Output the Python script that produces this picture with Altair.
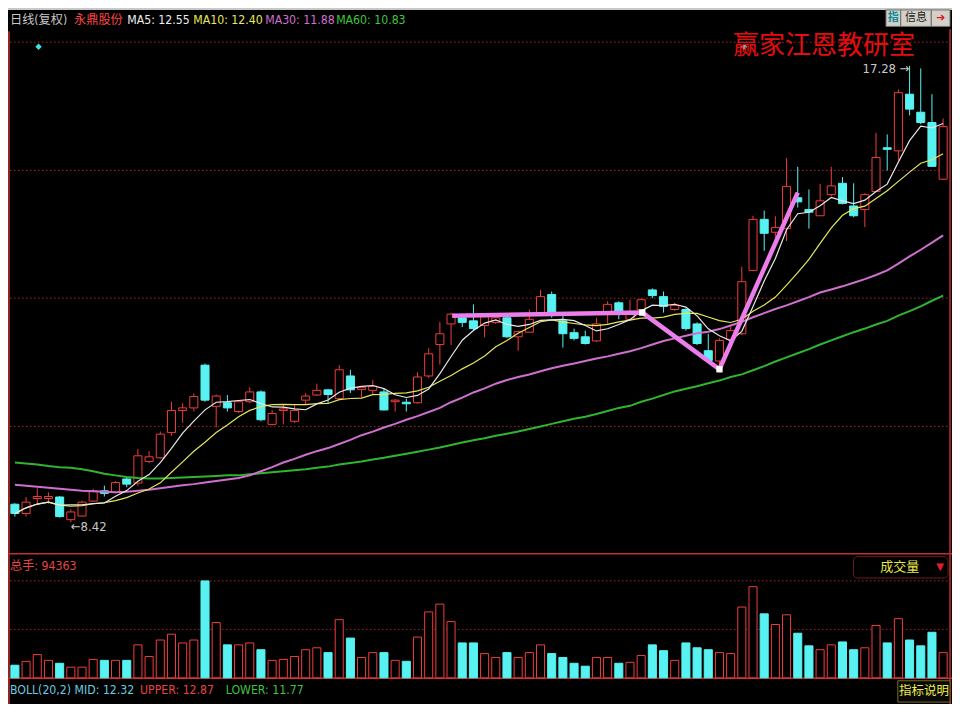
import altair as alt
import pandas as pd

# ---------------- data ----------------
opens = [8.77, 8.59, 8.88, 8.88, 8.91, 8.47, 8.54, 8.83, 9.03, 9.00,
         9.26, 9.18, 9.60, 9.67, 10.16, 10.59, 10.64, 11.47, 10.67, 10.74,
         10.57, 10.76, 10.95, 10.32, 10.59, 10.38, 10.79, 10.89, 10.99, 10.82,
         11.26, 11.00, 10.98, 10.95, 10.76, 10.75, 10.74, 11.26, 11.87, 12.27,
         12.39, 12.33, 12.24, 12.30, 12.39, 12.02, 12.11, 12.44, 12.84, 12.33,
         12.10, 12.02, 11.94, 12.49, 12.68, 12.36, 12.55, 12.93, 12.80, 12.55,
         12.55, 12.27, 11.75, 11.55, 11.97, 12.08, 13.31, 14.30, 14.05, 14.12,
         14.72, 14.49, 14.37, 14.78, 15.00, 14.56, 14.49, 14.84, 15.69, 15.63,
         16.73, 16.38, 16.18, 15.08]
highs = [8.79, 8.91, 9.08, 9.00, 8.93, 8.67, 8.84, 9.07, 9.13, 9.22,
         9.30, 9.84, 9.80, 10.18, 10.76, 10.73, 10.92, 11.50, 10.90, 10.89,
         10.79, 11.04, 10.98, 10.60, 10.70, 10.70, 10.93, 11.11, 11.01, 11.47,
         11.38, 11.04, 11.18, 11.01, 10.81, 10.82, 11.33, 11.80, 12.31, 12.49,
         12.43, 12.65, 12.46, 12.44, 12.46, 12.14, 12.55, 12.93, 12.90, 12.43,
         12.18, 12.14, 12.39, 12.71, 12.71, 12.74, 12.77, 12.96, 12.90, 12.68,
         12.58, 12.30, 12.08, 11.99, 12.22, 13.38, 14.37, 14.47, 14.36, 15.49,
         15.32, 14.88, 14.99, 15.32, 15.12, 15.00, 14.81, 15.98, 15.95, 16.82,
         17.28, 17.23, 16.73, 16.26]
lows = [8.53, 8.53, 8.75, 8.78, 8.51, 8.42, 8.53, 8.81, 8.92, 8.98,
        9.10, 9.13, 9.57, 9.65, 10.10, 10.35, 10.57, 10.76, 10.26, 10.57,
        10.54, 10.73, 10.38, 10.30, 10.32, 10.35, 10.71, 10.87, 10.73, 10.79,
        10.93, 10.84, 10.89, 10.59, 10.57, 10.57, 10.72, 11.22, 11.48, 11.86,
        12.21, 12.14, 12.01, 12.27, 12.00, 11.75, 12.10, 12.43, 12.39, 11.81,
        11.95, 11.87, 11.92, 12.27, 12.36, 12.33, 12.53, 12.77, 12.49, 12.52,
        12.14, 11.86, 11.53, 11.42, 11.94, 12.05, 13.29, 13.69, 13.88, 13.88,
        14.53, 14.12, 14.37, 14.75, 14.59, 14.34, 14.15, 14.83, 15.25, 15.44,
        16.32, 16.15, 15.32, 15.07]
closes = [8.59, 8.81, 8.92, 8.92, 8.53, 8.62, 8.81, 9.03, 8.98, 9.19,
          9.16, 9.71, 9.69, 10.13, 10.59, 10.64, 10.86, 10.79, 10.87, 10.64,
          10.76, 10.95, 10.41, 10.53, 10.62, 10.59, 10.87, 10.98, 10.90, 11.38,
          10.99, 11.04, 11.06, 10.60, 10.79, 10.72, 11.24, 11.69, 12.08, 12.46,
          12.30, 12.18, 12.41, 12.39, 12.02, 12.12, 12.36, 12.80, 12.44, 12.08,
          11.99, 11.89, 12.27, 12.65, 12.50, 12.46, 12.74, 12.82, 12.61, 12.63,
          12.18, 11.89, 11.56, 11.95, 12.14, 13.09, 14.30, 14.03, 14.14, 14.94,
          14.64, 14.44, 14.66, 14.95, 14.61, 14.37, 14.78, 15.50, 15.66, 16.76,
          16.44, 16.18, 15.33, 16.10]
volumes = [36100, 47200, 66600, 50000, 41600, 30500, 30500, 52700, 50000, 50000,
           50000, 94400, 61100, 108200, 124900, 99900, 108200, 277500, 158200, 94400,
           94400, 99900, 80500, 50000, 52700, 61100, 80500, 86000, 72200, 166500,
           113800, 58300, 72200, 72200, 50000, 47200, 116600, 188700, 210900, 161000,
           99900, 99900, 69400, 58300, 72200, 58300, 72200, 94400, 69400, 58300,
           41600, 33300, 58300, 58300, 41600, 44400, 63800, 94363, 77700, 50000,
           99900, 86000, 80500, 72200, 69400, 202600, 260900, 183200, 152600, 180400,
           127700, 91600, 80500, 94400, 102700, 80500, 86000, 149900, 99900, 169300,
           108200, 91600, 130400, 72200]
ma30 = [9.15, 9.13, 9.11, 9.09, 9.07, 9.05, 9.03, 9.02, 9.01, 9.00,
        9.01, 9.03, 9.05, 9.08, 9.11, 9.14, 9.16, 9.19, 9.22, 9.25,
        9.28, 9.33, 9.41, 9.49, 9.58, 9.65, 9.73, 9.80, 9.86, 9.94,
        10.02, 10.11, 10.18, 10.26, 10.33, 10.41, 10.48, 10.56, 10.64, 10.75,
        10.84, 10.94, 11.02, 11.11, 11.18, 11.24, 11.29, 11.35, 11.41, 11.46,
        11.50, 11.55, 11.60, 11.64, 11.69, 11.74, 11.80, 11.87, 11.94, 11.99,
        12.04, 12.09, 12.12, 12.17, 12.24, 12.31, 12.40, 12.48, 12.56, 12.63,
        12.71, 12.79, 12.88, 12.94, 13.00, 13.07, 13.14, 13.22, 13.31, 13.44,
        13.58, 13.71, 13.85, 13.99]
ma60 = [9.58, 9.56, 9.54, 9.51, 9.49, 9.48, 9.45, 9.41, 9.36, 9.33,
        9.30, 9.28, 9.27, 9.27, 9.28, 9.29, 9.30, 9.31, 9.32, 9.33,
        9.33, 9.35, 9.37, 9.39, 9.41, 9.43, 9.45, 9.48, 9.50, 9.54,
        9.57, 9.60, 9.64, 9.67, 9.71, 9.75, 9.79, 9.83, 9.87, 9.92,
        9.97, 10.01, 10.05, 10.10, 10.14, 10.18, 10.23, 10.28, 10.33, 10.38,
        10.43, 10.47, 10.52, 10.58, 10.64, 10.68, 10.76, 10.82, 10.89, 10.96,
        11.01, 11.06, 11.12, 11.17, 11.24, 11.29, 11.37, 11.45, 11.54, 11.62,
        11.70, 11.78, 11.87, 11.95, 12.03, 12.11, 12.18, 12.26, 12.33, 12.43,
        12.52, 12.61, 12.72, 12.82]

trend_idx = [39.1, 56.1, 63.0, 70.0]
trend_price = [12.43, 12.49, 11.39, 14.82]
vertex_idx = [56.1, 63.0]
vertex_price = [12.49, 11.39]

price_grid = [10.28, 12.77, 15.25, 17.74]
vol_grid = [138750, 277500]

header_texts = ["日线(复权)", "永鼎股份", "MA5: 12.55", "MA10: 12.40", "MA30: 11.88", "MA60: 10.83"]
vol_header = "总手: 94363"
vol_name = "成交量"
boll_texts = ["BOLL(20,2) MID: 12.32", "UPPER: 12.87", "LOWER: 11.77"]
watermark = "赢家江恩教研室"
button_texts = ["指", "信息"]
help_text = "指标说明"

# ---------------- layout ----------------
W, H = 944, 696


def fx(X):
    return (X - 1) * W / 958


def fy(Y):
    return (Y - 2) * H / 718


RED = "#f03c3c"
CYAN = "#58f2f2"
GRID = "#a82626"
NARROW = "Liberation Sans Narrow, DejaVu Sans Condensed, Noto Sans CJK SC, sans-serif"
CJK = "Noto Sans CJK SC, sans-serif"

N = len(closes)
df = pd.DataFrame({"i": list(range(N)), "open": opens, "high": highs, "low": lows,
                   "close": closes, "volume": volumes, "ma30": ma30, "ma60": ma60})

xs = alt.Scale(domain=[0, N - 1], range=[fx(8), fx(950)], nice=False, zero=False)
ps = alt.Scale(domain=[min(lows), max(highs)], range=[fy(532.5), fy(61.7)], nice=False, zero=False)
vs = alt.Scale(domain=[0, 277500], range=[fy(693), fy(593)], nice=False, zero=False)

X_I = alt.X("i:Q", scale=xs, axis=None)

base = alt.Chart(df)
up = base.transform_filter("datum.close >= datum.open").transform_calculate(
    bl="datum.i - 0.36", br="datum.i + 0.36")
down = base.transform_filter("datum.close < datum.open").transform_calculate(
    bl="datum.i - 0.36", br="datum.i + 0.36")

layers = []

# top grey bar
layers.append(alt.Chart(pd.DataFrame({"a": [0]})).mark_rect(color="#c8c8c8").encode(
    x=alt.value(0), x2=alt.value(W), y=alt.value(0), y2=alt.value(fy(4))))

# grid lines
layers.append(alt.Chart(pd.DataFrame({"level": price_grid})).mark_rule(
    color=GRID, strokeDash=[1.5, 2.5], strokeWidth=1).encode(
    y=alt.Y("level:Q", scale=ps, axis=None), x=alt.value(fx(3)), x2=alt.value(fx(956))))
layers.append(alt.Chart(pd.DataFrame({"level": vol_grid})).mark_rule(
    color=GRID, strokeDash=[1.5, 2.5], strokeWidth=1).encode(
    y=alt.Y("level:Q", scale=vs, axis=None), x=alt.value(fx(3)), x2=alt.value(fx(956))))

# frame lines
frame = alt.Chart(pd.DataFrame({"a": [0]}))
layers.append(frame.mark_rule(color="#c03030", strokeWidth=1.5).encode(
    x=alt.value(fx(2)), y=alt.value(fy(26)), y2=alt.value(H)))
layers.append(frame.mark_rule(color="#c03030", strokeWidth=1.5).encode(
    x=alt.value(fx(957)), y=alt.value(fy(24)), y2=alt.value(H)))
layers.append(frame.mark_rule(color="#c03030", strokeWidth=1.5).encode(
    x=alt.value(0), x2=alt.value(W), y=alt.value(fy(565))))
layers.append(frame.mark_rule(color="#c03030", strokeWidth=1.5).encode(
    x=alt.value(0), x2=alt.value(W), y=alt.value(fy(693.5))))

# volume bars
layers.append(up.mark_rect(fill="#000000", stroke=RED, strokeWidth=1).encode(
    x=alt.X("bl:Q", scale=xs, axis=None), x2="br:Q",
    y=alt.Y("volume:Q", scale=vs, axis=None), y2=alt.datum(0)))
layers.append(down.mark_rect(fill=CYAN, stroke=CYAN, strokeWidth=1).encode(
    x=alt.X("bl:Q", scale=xs, axis=None), x2="br:Q",
    y=alt.Y("volume:Q", scale=vs, axis=None), y2=alt.datum(0)))

# candles: down (filled cyan)
layers.append(down.mark_rule(color=CYAN, strokeWidth=1).encode(
    x=X_I, y=alt.Y("high:Q", scale=ps, axis=None), y2="low:Q"))
layers.append(down.mark_rect(fill=CYAN, stroke=CYAN, strokeWidth=1).encode(
    x=alt.X("bl:Q", scale=xs, axis=None), x2="br:Q",
    y=alt.Y("open:Q", scale=ps, axis=None), y2="close:Q"))
# candles: up (hollow red)
layers.append(up.mark_rule(color=RED, strokeWidth=1).encode(
    x=X_I, y=alt.Y("high:Q", scale=ps, axis=None), y2="close:Q"))
layers.append(up.mark_rule(color=RED, strokeWidth=1).encode(
    x=X_I, y=alt.Y("open:Q", scale=ps, axis=None), y2="low:Q"))
layers.append(up.mark_rect(fill="#000000", stroke=RED, strokeWidth=1).encode(
    x=alt.X("bl:Q", scale=xs, axis=None), x2="br:Q",
    y=alt.Y("open:Q", scale=ps, axis=None), y2="close:Q"))

# moving averages
ma = base.transform_window(ma5="mean(close)", frame=[-4, 0], sort=[alt.SortField("i")]).transform_window(
    ma10="mean(close)", frame=[-9, 0], sort=[alt.SortField("i")])
layers.append(base.mark_line(color="#2fb52f", strokeWidth=2).encode(
    x=X_I, y=alt.Y("ma60:Q", scale=ps, axis=None)))
layers.append(base.mark_line(color="#cf6fcf", strokeWidth=2).encode(
    x=X_I, y=alt.Y("ma30:Q", scale=ps, axis=None)))
layers.append(ma.mark_line(color="#e6e65a", strokeWidth=1.2).encode(
    x=X_I, y=alt.Y("ma10:Q", scale=ps, axis=None)))
layers.append(ma.mark_line(color="#e8e8e8", strokeWidth=1.2).encode(
    x=X_I, y=alt.Y("ma5:Q", scale=ps, axis=None)))

# pink trend line with white vertices
layers.append(alt.Chart(pd.DataFrame({"i": trend_idx, "p": trend_price})).mark_line(
    color="#ec7eec", strokeWidth=4.5).encode(
    x=X_I, y=alt.Y("p:Q", scale=ps, axis=None)))
layers.append(alt.Chart(pd.DataFrame({"i": vertex_idx, "p": vertex_price})).mark_square(
    color="#ffffff", opacity=1, size=40, filled=True).encode(
    x=X_I, y=alt.Y("p:Q", scale=ps, axis=None)))

# max / min labels
layers.append(base.transform_joinaggregate(hmax="max(high)").transform_filter(
    "datum.high == datum.hmax").transform_calculate(
    lbl="format(datum.high, '.2f') + ' →'").mark_text(
    align="right", baseline="middle", color="#c8c8c8", fontSize=13, font=NARROW, dy=3).encode(
    x=X_I, y=alt.Y("high:Q", scale=ps, axis=None), text="lbl:N"))
layers.append(base.transform_joinaggregate(lmin="min(low)").transform_filter(
    "datum.low == datum.lmin").transform_calculate(
    lbl="'←' + format(datum.low, '.2f')").mark_text(
    align="left", baseline="middle", color="#c8c8c8", fontSize=13, font=NARROW, dy=5).encode(
    x=X_I, y=alt.Y("low:Q", scale=ps, axis=None), text="lbl:N"))


def label(txt, X, Y, color, size=13, font=NARROW, align="left", weight="normal"):
    return alt.Chart(pd.DataFrame({"t": [txt]})).mark_text(
        align=align, baseline="middle", color=color, fontSize=size, font=font,
        fontWeight=weight).encode(x=alt.value(fx(X)), y=alt.value(fy(Y)), text="t:N")


def box(X1, X2, Y1, Y2, fill, stroke, radius=0):
    return alt.Chart(pd.DataFrame({"a": [0]})).mark_rect(
        fill=fill, stroke=stroke, strokeWidth=1, cornerRadius=radius).encode(
        x=alt.value(fx(X1)), x2=alt.value(fx(X2)), y=alt.value(fy(Y1)), y2=alt.value(fy(Y2)))


# header texts
hx = [3, 68, 122, 189, 262, 334]
hc = ["#c8c8c8", "#ff4646", "#eeeeee", "#e8e85c", "#d070d0", "#3cc83c"]
for t, X, c in zip(header_texts, hx, hc):
    layers.append(label(t, X, 14, c, size=12.2))

# diamonds
layers.append(alt.Chart(pd.DataFrame({"a": [0]})).mark_point(
    shape="diamond", filled=True, color="#40e0e0", size=40, opacity=1).encode(
    x=alt.value(fx(32)), y=alt.value(fy(42))))
layers.append(alt.Chart(pd.DataFrame({"a": [0]})).mark_point(
    shape="diamond", filled=True, color="#40e0e0", size=40, opacity=1).encode(
    x=alt.value(fx(748)), y=alt.value(fy(42))))

# top-right buttons
layers.append(box(892, 907, 4, 21, "#d4d0c8", "#707070"))
layers.append(box(907, 938, 4, 21, "#d4d0c8", "#707070"))
layers.append(box(938, 957, 4, 21, "#d4d0c8", "#707070"))
layers.append(label(button_texts[0], 899.5, 12.5, "#0a8a9a", size=11, font=CJK, align="center", weight="bold"))
layers.append(label(button_texts[1], 922.5, 12.5, "#202020", size=11, font=CJK, align="center"))
layers.append(label("➜", 947.5, 12.5, "#d02020", size=11, font="DejaVu Sans", align="center"))

# watermark
layers.append(label(watermark, 829, 41.5, "#e80c0c", size=26, font=CJK, align="center"))

# volume panel texts
layers.append(label(vol_header, 3, 578, "#e84444", size=12.2))
layers.append(box(859, 955, 568, 590, "#000000", "#6a1c1c", radius=4))
layers.append(label(vol_name, 906, 579, "#e8e84a", size=13, font=CJK, align="center"))
layers.append(label("▼", 947, 579, "#e02030", size=10, font="DejaVu Sans", align="center"))

# bottom texts
bx = [3, 135, 222]
bc = ["#6ccbe0", "#e84444", "#40c040"]
for t, X, c in zip(boll_texts, bx, bc):
    layers.append(label(t, X, 706, c, size=12.2))
layers.append(box(904, 957, 696, 718, "#080808", "#7a6a20"))
layers.append(label(help_text, 930.5, 707, "#f0ee48", size=12.5, font=CJK, align="center"))

chart = alt.layer(*layers).resolve_scale(y="independent", x="shared").properties(
    width=W, height=H, background="#000000", padding=0,
    autosize=alt.AutoSizeParams(type="none")).configure_view(strokeWidth=0)

chart.save("out.html", embed_options={"renderer": "svg", "actions": False})
